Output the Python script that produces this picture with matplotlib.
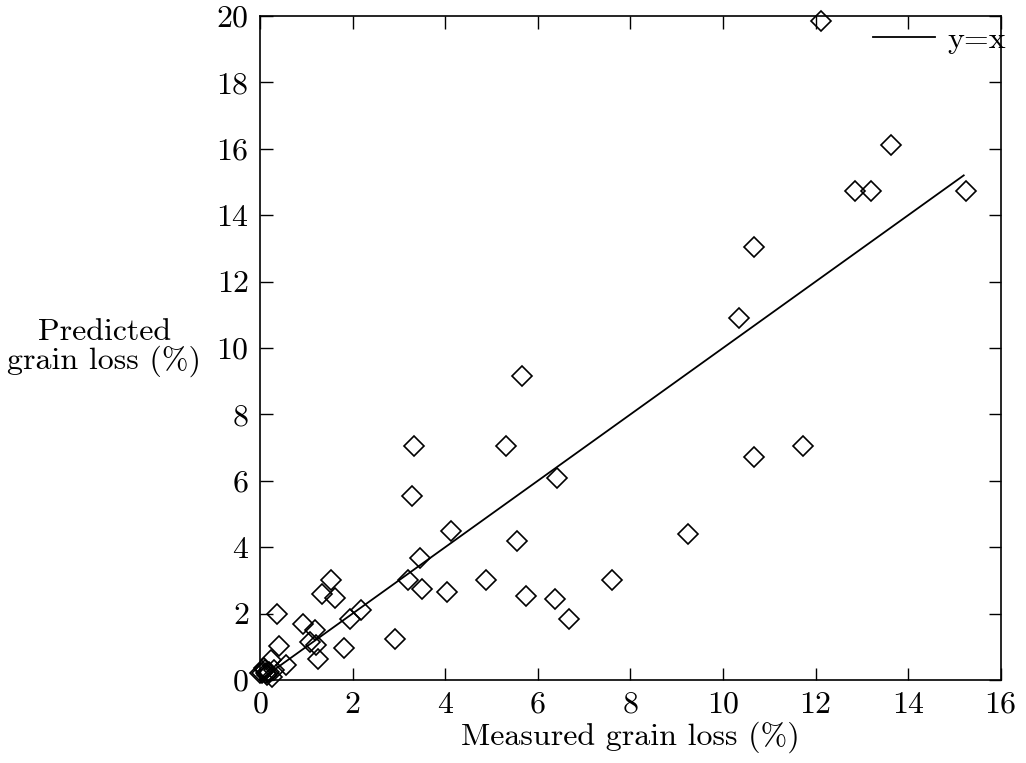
import matplotlib
matplotlib.use("Agg")
import matplotlib.pyplot as plt

plt.rcParams["font.family"] = ["cmr10", "DejaVu Serif"]
plt.rcParams["axes.formatter.use_mathtext"] = True
plt.rcParams["mathtext.fontset"] = "cm"

# Measured vs predicted grain loss (%)
measured = [
    12.11, 13.62, 12.86, 13.19, 15.24, 10.67, 10.35, 5.67, 3.33, 5.31,
    10.67, 11.73, 6.41, 3.29, 4.12, 9.25, 5.56, 3.45, 3.19, 3.50,
    4.04, 4.88, 5.74, 6.37, 6.67, 7.61, 1.53, 1.35, 1.63, 2.19,
    1.95, 2.92, 0.92, 1.19, 1.07, 1.22, 1.82, 1.25, 0.37, 0.40,
    0.56, 0.23, 0.05, 0.10, 0.15, 0.20, 0.30, 0.00, 0.12, 0.25, 0.08,
]
predicted = [
    19.85, 16.12, 14.74, 14.74, 14.74, 13.03, 10.91, 9.15, 7.05, 7.05,
    6.72, 7.05, 6.08, 5.54, 4.49, 4.39, 4.18, 3.66, 3.01, 2.74,
    2.65, 3.02, 2.54, 2.44, 1.84, 3.02, 3.01, 2.60, 2.46, 2.11,
    1.83, 1.24, 1.70, 1.50, 1.15, 1.05, 0.95, 0.62, 1.98, 1.02,
    0.45, 0.60, 0.20, 0.30, 0.15, 0.25, 0.30, 0.20, 0.22, 0.10, 0.35,
]
line_x = [0, 15.2]

fig = plt.figure(figsize=(10.26, 7.63), dpi=100)
ax = fig.add_axes([0.2534, 0.1088, 0.722, 0.8702])

ax.plot(measured, predicted, linestyle="none", marker="D", markersize=10,
        markerfacecolor="none", markeredgecolor="black", markeredgewidth=1.2,
        clip_on=False)
ax.plot(line_x, line_x, color="black", linewidth=1.3, label="y=x")

ax.set_xlim(0, 16)
ax.set_ylim(0, 20)
ax.set_xticks(range(0, 17, 2))
ax.set_yticks(range(0, 21, 2))
ax.tick_params(direction="in", length=9, width=1, top=True, right=True,
               labelsize=23, pad=8)
for s in ax.spines.values():
    s.set_linewidth(1.2)

ax.set_xlabel("Measured grain loss (%)", fontsize=23, labelpad=2)
ax.set_ylabel("Predicted\ngrain loss (%)", fontsize=23, rotation=0,
              ha="center", va="center", linespacing=1.0)
ax.yaxis.set_label_coords(-0.21, 0.5)

ax.legend(loc="upper right", bbox_to_anchor=(1.012, 0.99), frameon=False,
          fontsize=23, handlelength=1.95, handletextpad=0.4, borderpad=0.1,
          borderaxespad=0)

fig.savefig("out.png", dpi=100)
